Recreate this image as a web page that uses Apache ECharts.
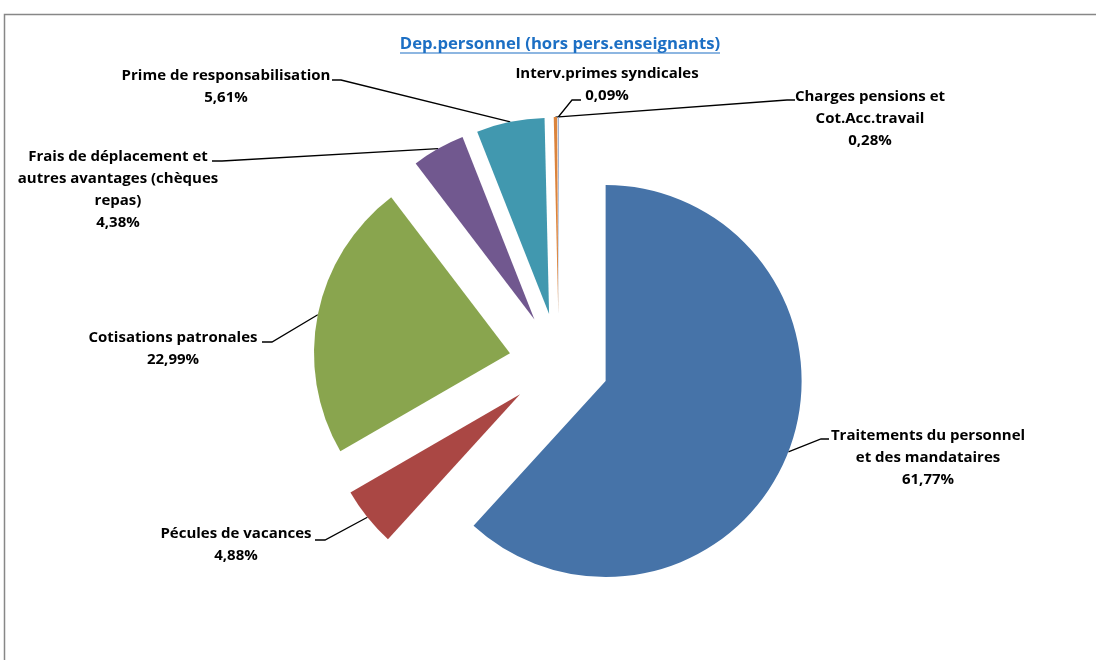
<!DOCTYPE html>
<html>
<head>
<meta charset="utf-8">
<script src="https://cdn.jsdelivr.net/npm/echarts@6/dist/echarts.min.js"></script>
<style>
  html, body { margin: 0; padding: 0; background: #ffffff; }
  #chart { width: 1096px; height: 660px; }
</style>
</head>
<body>
<div id="chart"></div>
<script>
// Expense categories (clockwise from 12 o'clock)
const categories = [
  'Traitements du personnel\net des mandataires',
  'Pécules de vacances',
  'Cotisations patronales',
  'Frais de déplacement et\nautres avantages (chèques\nrepas)',
  'Prime de responsabilisation',
  'Charges pensions et\nCot.Acc.travail',
  'Interv.primes syndicales'
];
// Share of each category, in percent
const shares = [61.77, 4.88, 22.99, 4.38, 5.61, 0.28, 0.09];
// Slice colours
const sliceColors = ['#4673A8', '#AA4744', '#89A54E', '#71588F', '#4198AF', '#DB843D', '#93A9CF'];

const TITLE = 'Dep.personnel (hors pers.enseignants)';

// Pie geometry
const CX = 559, CY = 363, R = 196, EXPLODE = 50;
const FONT = 'Open Sans';

// Where each label block sits and where its leader line meets it
const labelSpots = [
  { x: 928, y: 458, elbow: [821, 439], end: [829, 439] },
  { x: 236, y: 545, elbow: [325, 540], end: [315, 540] },
  { x: 173, y: 349, elbow: [272, 342], end: [262, 342] },
  { x: 118, y: 190, elbow: [222, 161], end: [212, 161] },
  { x: 226, y: 87,  elbow: [341, 80],  end: [332, 80] },
  { x: 870, y: 119, elbow: [787, 100], end: [795, 100] },
  { x: 607, y: 85,  elbow: [572, 100], end: [581, 100] }
];

function fmtPct(v) {
  return v.toFixed(2).replace('.', ',') + '%';
}

// mid-angle of each slice (radians, clockwise from 12 o'clock)
const total = shares.reduce((a, b) => a + b, 0);
const midAngles = [];
let acc = 0;
shares.forEach(v => {
  midAngles.push(((acc + v / 2) / total) * Math.PI * 2);
  acc += v;
});

// exploded slices
const sliceData = categories.map((name, i) => ({
  name: name,
  value: shares[i],
  selected: true,
  itemStyle: { color: sliceColors[i] }
}));

// same shares again, carrying the data labels and leader lines
const labelData = categories.map((name, i) => ({
  name: name,
  value: shares[i]
}));

const chart = echarts.init(document.getElementById('chart'), null, { renderer: 'canvas' });

chart.setOption({
  animation: false,
  backgroundColor: '#ffffff',
  title: {
    text: TITLE,
    left: 555,
    top: 31,
    textAlign: 'center',
    textStyle: {
      fontFamily: FONT,
      fontSize: 16.7,
      fontWeight: 'bold',
      color: '#1C6FC4'
    }
  },
  graphic: [
    {
      type: 'rect',
      silent: true,
      shape: { x: 4.5, y: 14.5, width: 1200, height: 800 },
      style: { fill: null, stroke: '#878787', lineWidth: 1.5 }
    },
    {
      type: 'line',
      silent: true,
      shape: { x1: 400, y1: 53, x2: 720, y2: 53 },
      style: { stroke: '#1C6FC4', lineWidth: 1.2 }
    }
  ],
  series: [
    {
      type: 'pie',
      center: [CX, CY],
      radius: [0, R],
      startAngle: 90,
      clockwise: true,
      selectedMode: 'multiple',
      selectedOffset: EXPLODE,
      silent: true,
      itemStyle: { borderWidth: 0 },
      label: { show: false },
      labelLine: { show: false },
      emphasis: { disabled: true },
      data: sliceData
    },
    {
      type: 'pie',
      center: [CX, CY],
      radius: [0, R],
      startAngle: 90,
      clockwise: true,
      silent: true,
      avoidLabelOverlap: false,
      minShowLabelAngle: 0,
      itemStyle: { color: 'rgba(0,0,0,0)', borderWidth: 0 },
      label: {
        show: true,
        position: 'outside',
        formatter: p => p.name + '\n' + fmtPct(p.value),
        fontFamily: FONT,
        fontSize: 15,
        fontWeight: 'bold',
        color: '#000000',
        lineHeight: 22,
        align: 'center'
      },
      labelLine: {
        show: true,
        lineStyle: { color: '#000000', width: 1.3 }
      },
      labelLayout: function (params) {
        const i = params.dataIndex;
        const s = labelSpots[i];
        const a = midAngles[i];
        const arc = [CX + (R + EXPLODE) * Math.sin(a), CY - (R + EXPLODE) * Math.cos(a)];
        return {
          x: s.x,
          y: s.y,
          align: 'center',
          verticalAlign: 'middle',
          labelLinePoints: [arc, s.elbow, s.end]
        };
      },
      emphasis: { disabled: true },
      data: labelData
    }
  ]
});
</script>
</body>
</html>
